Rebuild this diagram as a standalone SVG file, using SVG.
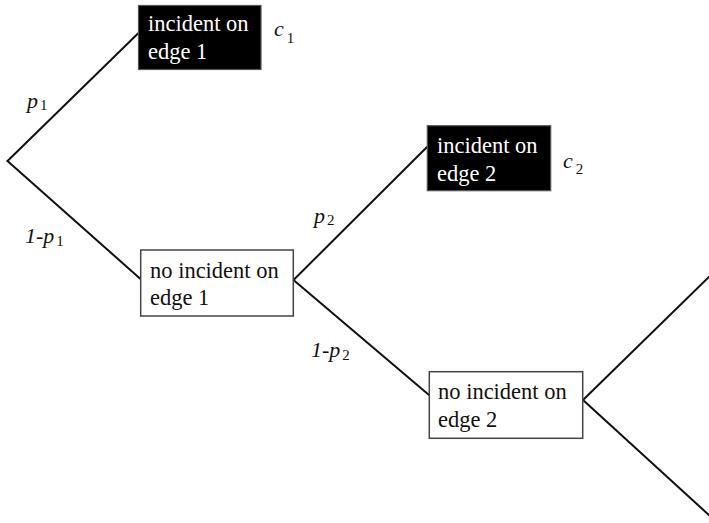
<svg xmlns="http://www.w3.org/2000/svg" width="709" height="523" viewBox="0 0 709 523">
<style>
.t{font-family:'Liberation Serif','Tinos','Times New Roman','Noto Serif','DejaVu Serif',serif;font-size:22.5px;}
.w{fill:#fff}
.k{fill:#111}
.lab{font-family:'Liberation Serif','Tinos','Times New Roman','Noto Serif','DejaVu Serif',serif;font-size:22px;font-style:italic;fill:#111}
.sub{font-size:15px;font-style:normal}
.e{stroke:#111;stroke-width:2;fill:none;stroke-linecap:round}
.bb{fill:#000;stroke:#555;stroke-width:1.2}
.wb{fill:#fff;stroke:#444;stroke-width:1.5}
</style>
<rect width="709" height="523" fill="#fff"/>
<g id="connectors">
<line class="e" x1="7.5" y1="161" x2="138.5" y2="33"/>
<line class="e" x1="7.5" y1="161" x2="140.5" y2="279"/>
<line class="e" x1="293.5" y1="280" x2="427" y2="147"/>
<line class="e" x1="293.5" y1="280" x2="429" y2="395"/>
<line class="e" x1="583" y1="400" x2="710" y2="276"/>
<line class="e" x1="583" y1="400" x2="710" y2="516"/>
</g>
<g id="labels">
<text class="lab" x="27" y="108">p<tspan class="sub" dx="2" dy="2">1</tspan></text>
<text class="lab" x="25" y="243">1-p<tspan class="sub" dx="2" dy="3">1</tspan></text>
<text class="lab" x="314" y="223">p<tspan class="sub" dx="2" dy="2">2</tspan></text>
<text class="lab" x="311" y="357">1-p<tspan class="sub" dx="2" dy="3">2</tspan></text>
<text class="lab" x="274" y="36">c<tspan class="sub" dx="3" dy="7">1</tspan></text>
<text class="lab" x="563" y="168">c<tspan class="sub" dx="3" dy="6">2</tspan></text>
</g>
<g id="incident1">
<rect class="bb" x="138.5" y="5.5" width="122.5" height="64"/>
<text class="t w" x="148" y="31">incident on</text>
<text class="t w" x="148" y="59">edge 1</text>
</g>
<g id="noincident1">
<rect class="wb" x="140.7" y="250" width="152.6" height="66"/>
<text class="t k" x="150" y="278">no incident on</text>
<text class="t k" x="150" y="305">edge 1</text>
</g>
<g id="incident2">
<rect class="bb" x="427.3" y="125.7" width="123.4" height="65"/>
<text class="t w" x="437" y="153">incident on</text>
<text class="t w" x="437" y="181">edge 2</text>
</g>
<g id="noincident2">
<rect class="wb" x="429.3" y="371.7" width="153.4" height="66.6"/>
<text class="t k" x="438" y="399">no incident on</text>
<text class="t k" x="438" y="427">edge 2</text>
</g>
</svg>
